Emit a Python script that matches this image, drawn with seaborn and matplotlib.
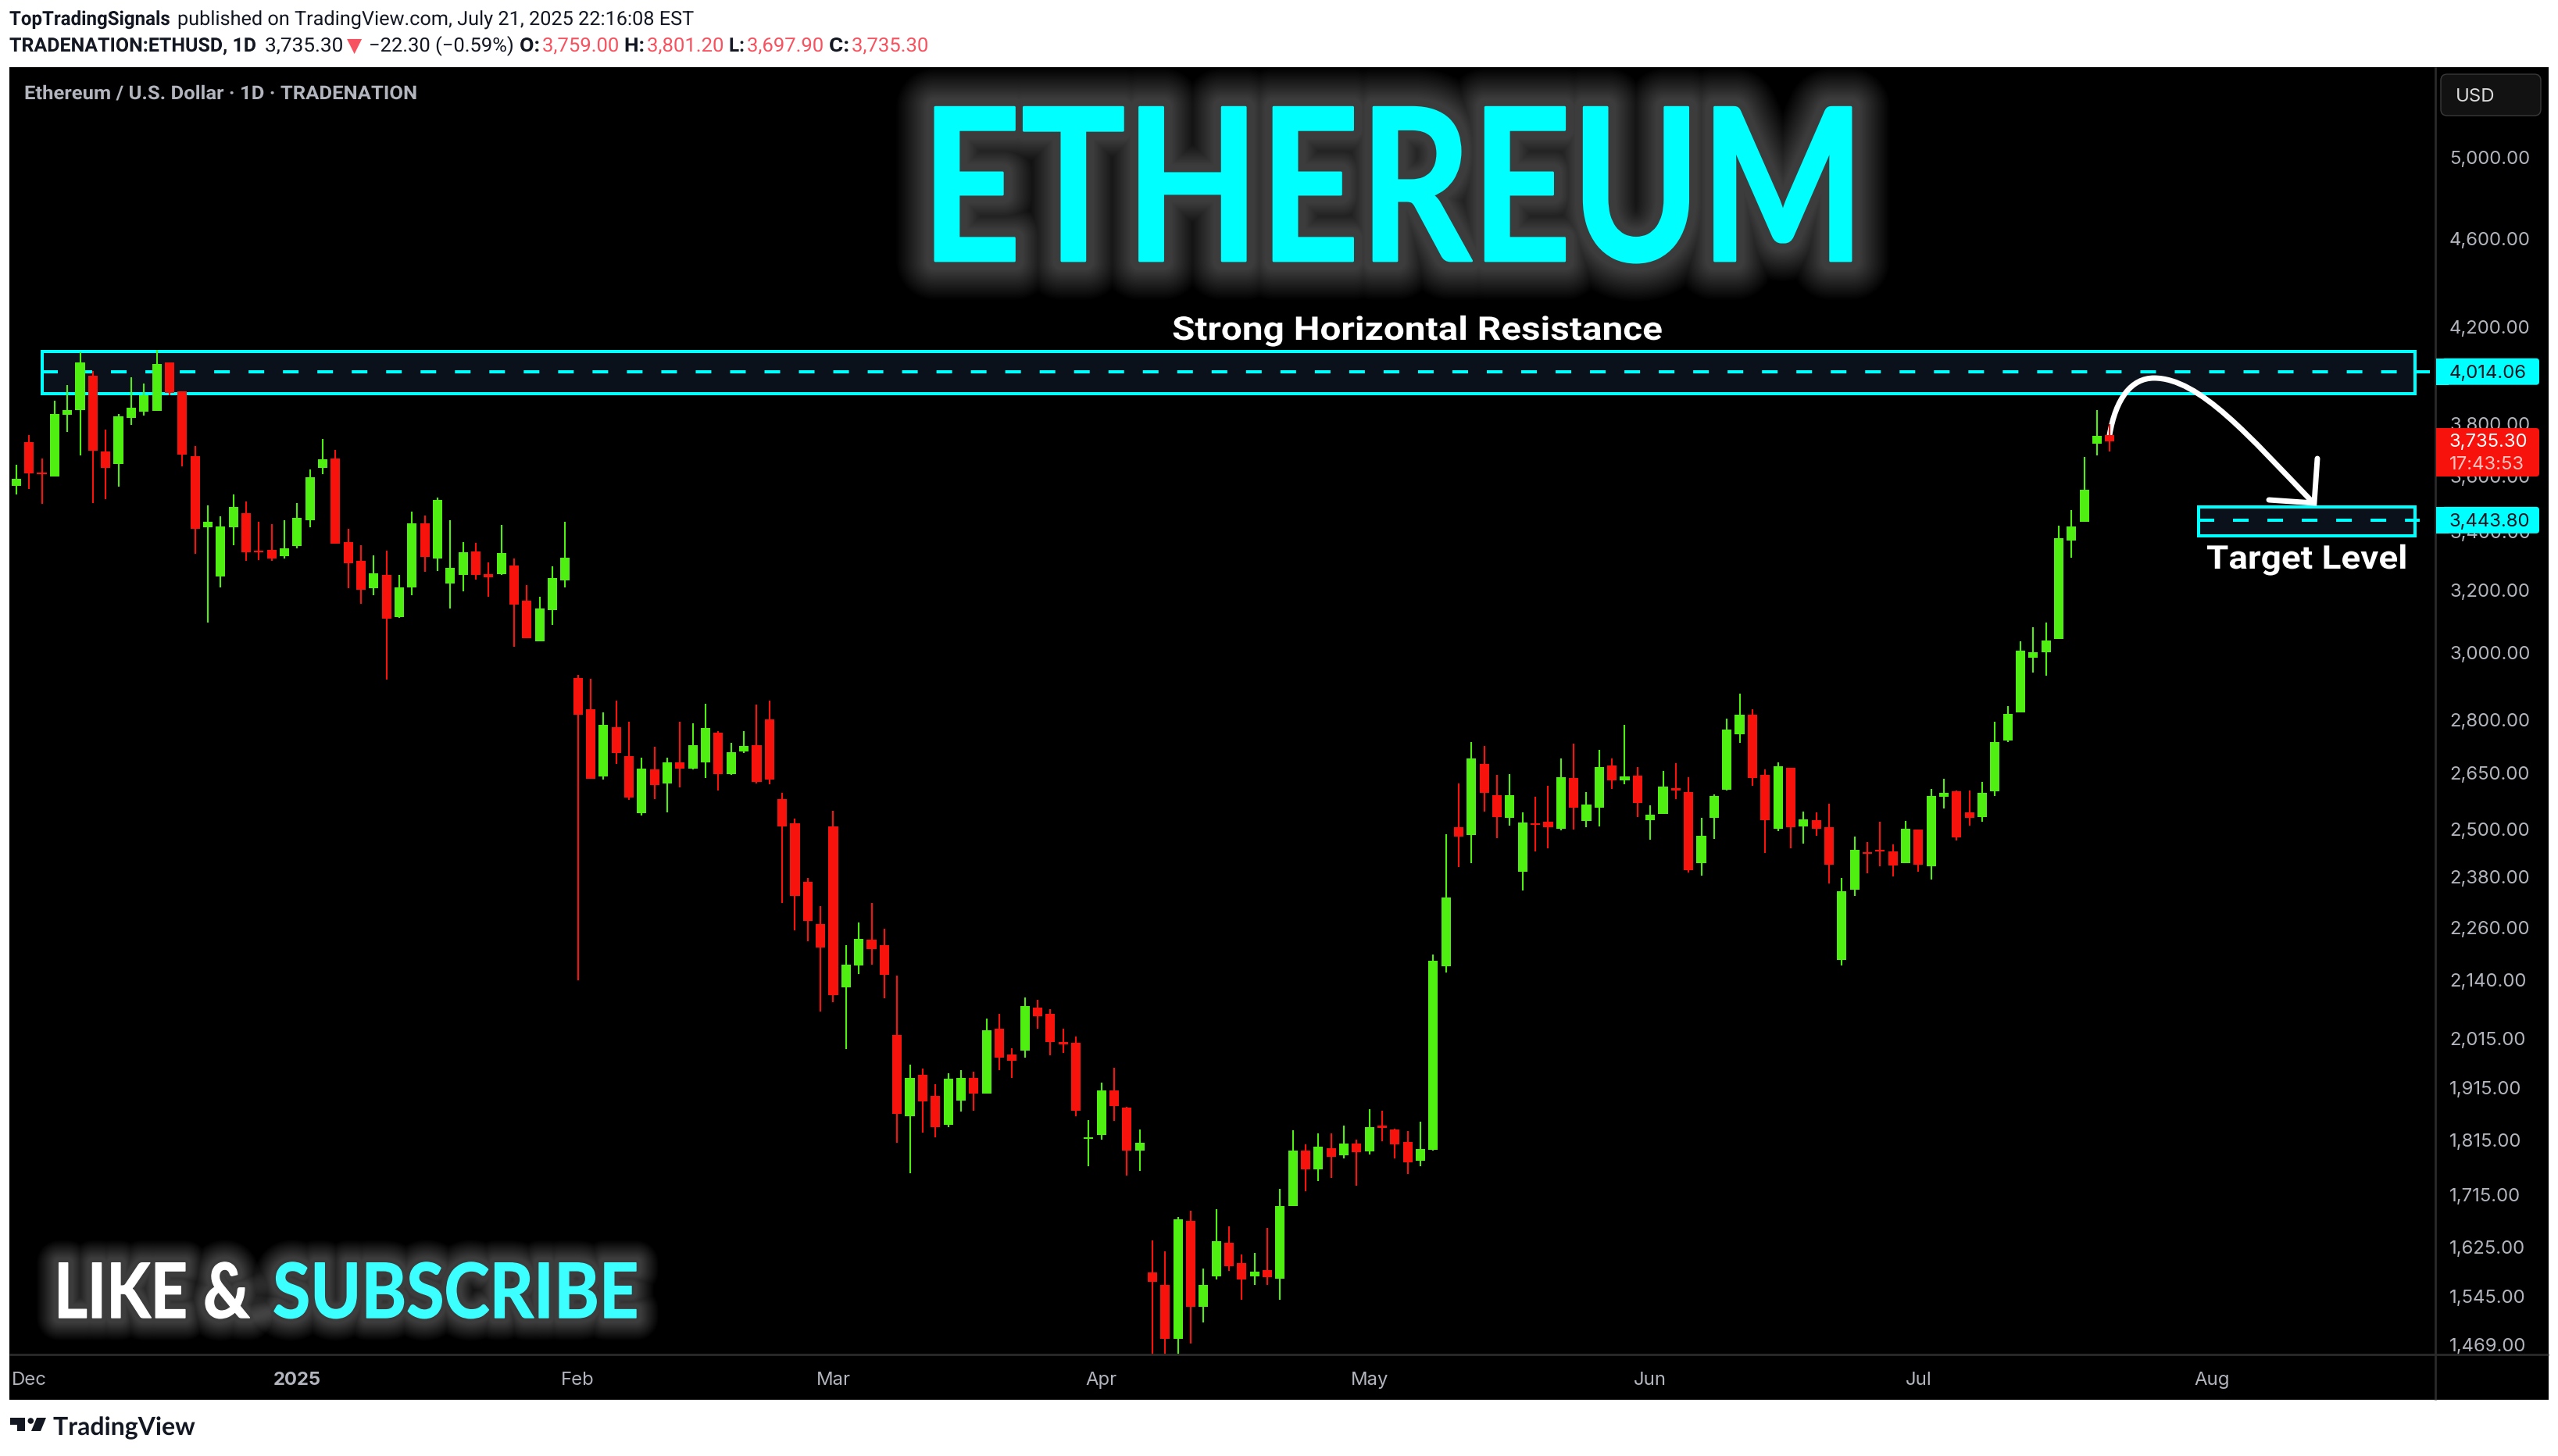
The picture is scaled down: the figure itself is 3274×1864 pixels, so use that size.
import matplotlib
matplotlib.use("Agg")
import matplotlib.pyplot as plt
import matplotlib.patheffects as pe
from matplotlib.patches import Circle, FancyBboxPatch, PathPatch, Polygon, Rectangle
from matplotlib.path import Path
from matplotlib.transforms import Affine2D, ScaledTranslation
import pandas as pd
import seaborn as sns

OPEN = [3569,3733,3618,3603,3839,3858,3998,3695,3650,3827,
        3852,3855,4053,3933,3679,3419,3250,3419,3469,3338,
        3340,3319,3354,3444,3635,3670,3367,3303,3209,3255,
        3117,3214,3433,3311,3225,3255,3335,3258,3258,3287,
        3168,3040,3138,3237,2926,2833,2643,2781,2699,2546,
        2663,2625,2683,2666,2683,2766,2650,2712,2730,2804,
        2583,2519,2372,2270,2510,2126,2175,2234,2221,2025,
        1862,1943,1902,1845,1892,1937,1906,2038,1984,1992,
        2083,2070,2010,2008,1819,1826,1912,1878,1797,1585,
        1564,1480,1671,1529,1578,1634,1600,1578,1588,1575,
        1697,1797,1762,1802,1789,1810,1796,1844,1836,1813,
        1779,1799,2174,2509,2489,2678,2593,2533,2397,2519,
        2523,2505,2640,2525,2560,2674,2632,2646,2527,2544,
        2612,2602,2418,2533,2608,2762,2818,2648,2505,2668,
        2511,2527,2509,2188,2353,2444,2451,2446,2418,2503,
        2410,2589,2604,2548,2535,2604,2744,2825,2989,3006,
        3047,3373,3439,3727,3759]
HIGH = [3647,3760,3670,3895,3958,4094,4017,3781,3842,3989,
        3964,4106,4053,3933,3718,3497,3458,3537,3511,3438,
        3430,3444,3505,3629,3745,3703,3414,3356,3321,3338,
        3255,3474,3460,3526,3444,3367,3364,3298,3428,3311,
        3221,3183,3284,3438,2935,2924,2825,2858,2798,2696,
        2725,2696,2797,2793,2850,2770,2737,2770,2847,2859,
        2600,2531,2381,2312,2552,2221,2274,2320,2259,2152,
        1964,1955,1924,1946,1953,1950,2060,2070,1997,2104,
        2099,2079,2037,2022,1855,1928,1957,1880,1837,1638,
        1620,1678,1689,1591,1692,1662,1614,1617,1659,1727,
        1835,1809,1829,1829,1844,1818,1875,1872,1838,1834,
        1851,2200,2491,2625,2740,2727,2648,2650,2548,2589,
        2619,2694,2735,2602,2716,2692,2789,2670,2566,2659,
        2681,2642,2533,2595,2807,2880,2834,2663,2683,2668,
        2550,2548,2570,2381,2485,2471,2523,2465,2525,2503,
        2610,2638,2606,2606,2629,2796,2843,3039,3084,3099,
        3424,3480,3676,3858,3801.2]
LOW = [3537,3557,3502,3603,3772,3683,3505,3520,3566,3799,
       3836,3855,3917,3641,3327,3099,3214,3356,3303,3306,
       3301,3311,3346,3419,3612,3362,3209,3160,3188,2922,
       3114,3186,3266,3268,3143,3201,3240,3183,3255,3023,
       3050,3040,3092,3214,2142,2638,2635,2677,2581,2539,
       2583,2547,2615,2663,2640,2606,2648,2708,2625,2622,
       2320,2255,2230,2074,2095,1995,2156,2177,2103,1812,
       1755,1831,1822,1841,1871,1873,1906,1953,1937,1978,
       2037,1983,1987,1862,1768,1817,1853,1752,1760,1420,
       1410,1440,1473,1505,1573,1587,1541,1564,1564,1541,
       1697,1724,1741,1747,1783,1733,1790,1815,1783,1754,
       1768,1797,2160,2408,2418,2550,2481,2513,2351,2446,
       2455,2501,2503,2509,2511,2610,2623,2535,2477,2544,
       2583,2395,2387,2479,2606,2737,2619,2442,2499,2455,
       2467,2487,2368,2176,2337,2393,2410,2385,2418,2397,
       2376,2558,2475,2513,2523,2591,2740,2825,2943,2933,
       3047,3313,3439,3682,3697.9]
CLOSE = [3595,3615,3612,3842,3858,4053,3698,3635,3833,3868,
         3917,4046,3927,3686,3414,3438,3422,3491,3332,3332,
         3311,3346,3452,3600,3667,3362,3295,3206,3260,3112,
         3214,3433,3316,3517,3279,3332,3255,3247,3329,3157,
         3050,3143,3245,3314,2817,2638,2788,2708,2587,2666,
         2621,2683,2666,2730,2778,2650,2711,2728,2629,2635,
         2510,2337,2278,2216,2109,2177,2235,2212,2154,1867,
         1937,1890,1841,1935,1937,1906,2035,1978,1971,2086,
         2064,2010,2006,1873,1822,1912,1881,1797,1811,1570,
         1480,1674,1530,1565,1637,1595,1573,1586,1577,1697,
         1797,1762,1805,1786,1810,1794,1841,1840,1809,1776,
         1800,2186,2334,2485,2692,2600,2535,2593,2521,2515,
         2509,2642,2560,2568,2670,2634,2644,2573,2542,2617,
         2606,2399,2487,2591,2775,2818,2640,2527,2672,2509,
         2529,2505,2414,2349,2451,2440,2447,2412,2505,2414,
         2591,2600,2483,2533,2600,2740,2820,3010,3006,3042,
         3381,3421,3554,3757,3735.3]

PRICE_TICKS = [5000, 4600, 4200, 3800, 3600, 3400, 3200, 3000, 2800, 2650, 2500,
               2380, 2260, 2140, 2015, 1915, 1815, 1715, 1625, 1545, 1469]
MONTH_BARS = [1, 22, 44, 64, 85, 106, 128, 149, 172]
MONTH_LABELS = ["Dec", "2025", "Feb", "Mar", "Apr", "May", "Jun", "Jul", "Aug"]

RESISTANCE = 4014.06
RESISTANCE_ZONE = [3925, 4098]
TARGET = 3443.80
TARGET_ZONE = [3387, 3491]
LAST_PRICE = 3735.30

W, H = 3274, 1864
UP = "#4ff011"
DOWN = "#f8120c"
CYAN = "#00ffff"
GREY = "#b2b5be"
INK = "#131722"
RED_TXT = "#f7525f"
FONT = ["Roboto", "DejaVu Sans"]
AXIS_SIZE = 17.2

sns.set_theme(style="dark", rc={"axes.facecolor": "black", "figure.facecolor": "white"})
plt.rcParams["font.family"] = ["Inter", "DejaVu Sans"]

df = pd.DataFrame({"open": OPEN, "high": HIGH, "low": LOW, "close": CLOSE})
df["bar"] = range(len(df))
df["bottom"] = df[["open", "close"]].min(axis=1)
df["body"] = (df["close"] - df["open"]).abs()
df["up"] = df["close"] >= df["open"]
wicks = df.melt(id_vars=["bar", "up"], value_vars=["high", "low"], value_name="price")

fig = plt.figure(figsize=(W / 100, H / 100), dpi=100)
fig.add_artist(Rectangle((12 / W, (H - 1792) / H), 3250 / W, 1706 / H, transform=fig.transFigure,
                         fc="black", ec="none", zorder=-1))
ax = fig.add_axes([12 / W, (H - 1734) / H, 3105 / W, 1648 / H])
ov = fig.add_axes([0, 0, 1, 1])
ov.set_xlim(0, W)
ov.set_ylim(H, 0)
ov.axis("off")

# candles: wicks then bodies
for is_up, colour in [(True, UP), (False, DOWN)]:
    sub = df[df["up"] == is_up]
    sns.lineplot(data=wicks[wicks["up"] == is_up], x="bar", y="price", units="bar", estimator=None,
                 color=colour, linewidth=1.5, solid_capstyle="butt", zorder=2.5, ax=ax)
    sns.barplot(data=sub, x="bar", y="body", bottom=sub["bottom"].values, native_scale=True, width=0.74,
                color=colour, saturation=1, linewidth=0, errorbar=None, zorder=3, ax=ax)

ax.set_yscale("log")
ax.set_xlim(-0.54, 189.5)
ax.set_ylim(1456.2, 5495)
ax.set_xlabel("")
ax.set_ylabel("")
ax.set_yticks(PRICE_TICKS, labels=[f"{p:,.2f}" for p in PRICE_TICKS])
ax.minorticks_off()
ax.yaxis.tick_right()
ax.tick_params(axis="y", length=0, pad=13, labelsize=AXIS_SIZE, labelcolor=GREY)
nudge = ScaledTranslation(0, 1.5 / 100, fig.dpi_scale_trans)
for tick_label in ax.get_yticklabels():
    tick_label.set_verticalalignment("center_baseline")
    tick_label.set_transform(tick_label.get_transform() + nudge)
ax.set_xticks(MONTH_BARS, labels=MONTH_LABELS)
ax.tick_params(axis="x", length=0, pad=15.5, labelsize=AXIS_SIZE, labelcolor=GREY)
ax.get_xticklabels()[1].set_fontweight("bold")
ax.grid(False)
for spine in ax.spines.values():
    spine.set_visible(False)


def zone(x0, x1, x_end, band, level):
    ax.add_patch(Rectangle((x0, band[0]), x1 - x0, band[1] - band[0], fc="#0a111a", ec=CYAN, lw=2.9, zorder=1))
    ax.plot([x0, x_end], [level, level], color=CYAN, lw=2.9, dashes=(4.97, 5.96), dash_capstyle="butt", zorder=1.2)


zone(2.03, 187.9, 189.06, RESISTANCE_ZONE, RESISTANCE)
zone(170.94, 187.9, 188.3, TARGET_ZONE, TARGET)

# hand drawn arrow
curve = Path([(2700, 557), (2708, 510), (2728, 484), (2757, 484), (2815, 484), (2880, 560), (2960, 643)],
             [Path.MOVETO] + [Path.CURVE4] * 6)
head = Path([(2966, 587), (2962, 644), (2904, 640)], [Path.MOVETO, Path.LINETO, Path.LINETO])
for shape in (curve, head):
    ax.add_patch(PathPatch(shape, transform=ov.transData, fc="none", ec="white", lw=5, capstyle="round",
                           joinstyle="miter", zorder=1.8, clip_on=False))

# panel separators
ov.plot([12, 3262], [1734, 1734], color="#2a2a2a", lw=2, solid_capstyle="butt")
ov.plot([3117, 3117], [86, 1792], color="#2a2a2a", lw=2, solid_capstyle="butt")

renderer = fig.canvas.get_renderer()


class Fit(pe.AbstractPathEffect):
    # squeezes the text sideways around x0, optional stroke for glow and extra weight
    def __init__(self, sx, x0, width=0, colour="white", alpha=1):
        super().__init__()
        self.sx, self.x0, self.width, self.colour, self.alpha = sx, x0, width, colour, alpha

    def draw_path(self, renderer, gc, tpath, affine, rgbFace=None):
        fit = affine + Affine2D().translate(-self.x0, 0).scale(self.sx, 1).translate(self.x0, 0)
        if not self.width:
            renderer.draw_path(gc, tpath, fit, rgbFace)
            return
        gc0 = renderer.new_gc()
        gc0.copy_properties(gc)
        gc0.set_foreground(self.colour)
        gc0.set_alpha(self.alpha)
        gc0.set_linewidth(self.width)
        renderer.draw_path(gc0, tpath, fit, None)
        gc0.restore()


def fit_text(label, x0, x1, baseline, size, colour, weight="bold", family="Lato", glow=0, extra=0):
    t = ov.text(x0, baseline, label, fontsize=size, color=colour, fontweight=weight, family=family,
                ha="left", va="baseline")
    box = t.get_window_extent(renderer)
    sx = (x1 - x0) / box.width
    effects = []
    if glow:
        effects = [Fit(sx, x0, width=glow * (1 - 0.8 * i / 30), alpha=0.012) for i in range(30)]
    if extra:
        effects.append(Fit(sx, x0, width=extra, colour=colour))
    t.set_path_effects(effects + [Fit(sx, x0)])
    return t


fit_text("ETHEREUM", 1179, 2387, 334, 196, CYAN, glow=72, extra=2)
fit_text("LIKE &", 69, 320, 1687, 70, "white", glow=42, extra=1)
fit_text("SUBSCRIBE", 349, 818, 1687, 70, "#3cffff", glow=42, extra=1)
fit_text("Strong Horizontal Resistance", 1500, 2127, 435, 30, "white", weight="bold", family="Roboto")
fit_text("Target Level", 2824, 3081, 728, 30, "white", weight="bold", family="Roboto")
fit_text("Ethereum / U.S. Dollar · 1D · TRADENATION", 31, 533, 127, 17.5, GREY, weight="bold", family="Roboto")
fit_text("TradingView", 68, 250, 1837, 23, INK, weight="bold", family="Lato")

# publisher header, each piece fitted to its span
for label, x0, x1, base, weight, colour in [
    ("TopTradingSignals", 12, 218, 32, "bold", INK),
    ("published on TradingView.com, July 21, 2025 22:16:08 EST", 227, 887, 32, "normal", INK),
    ("TRADENATION:ETHUSD, 1D", 12, 329, 66, "bold", INK),
    ("3,735.30", 339, 439, 66, "normal", INK),
    ("−22.30 (−0.59%)", 472, 657, 66, "normal", INK),
    ("O:", 665, 691, 66, "bold", INK),
    ("3,759.00", 694, 792, 66, "normal", RED_TXT),
    ("H:", 799, 825, 66, "bold", INK),
    ("3,801.20", 828, 926, 66, "normal", RED_TXT),
    ("L:", 933, 953, 66, "bold", INK),
    ("3,697.90", 956, 1054, 66, "normal", RED_TXT),
    ("C:", 1061, 1087, 66, "bold", INK),
    ("3,735.30", 1090, 1188, 66, "normal", RED_TXT),
]:
    fit_text(label, x0, x1, base, 18, colour, weight=weight, family="Roboto")
ov.text(444, 66, "▼", fontsize=18, color=RED_TXT, family=FONT, ha="left", va="baseline")


def price_y(price):
    return H - ax.transData.transform((0, price))[1]


def axis_box(top, bottom, colour):
    ov.add_patch(FancyBboxPatch((3125, top), 125, bottom - top, boxstyle="round,pad=0,rounding_size=4",
                                fc=colour, ec="none", zorder=4))
    ov.add_patch(Rectangle((3118, top), 16, bottom - top, fc=colour, ec="none", zorder=4))


for level in (RESISTANCE, TARGET):
    y = price_y(level)
    axis_box(y - 17, y + 17, CYAN)
    ov.text(3135, y, f"{level:,.2f}", fontsize=AXIS_SIZE, color=INK, va="center_baseline", zorder=5)
y = price_y(LAST_PRICE)
axis_box(y - 17, y + 45, DOWN)
ov.text(3135, y - 2, f"{LAST_PRICE:,.2f}", fontsize=AXIS_SIZE, color="white", va="center_baseline", zorder=5)
ov.text(3135, y + 27, "17:43:53", fontsize=AXIS_SIZE, color="#ffc4c0", va="center_baseline", zorder=5)

# currency button
ov.add_patch(FancyBboxPatch((3124, 95), 128, 53, boxstyle="round,pad=0,rounding_size=8",
                            fc="#121212", ec="#3a3a3a", lw=1))
ov.text(3143, 122, "USD", fontsize=AXIS_SIZE, color="#dbdbdb", va="center_baseline")

# TradingView mark
ov.add_patch(Polygon([(13, 1815), (32, 1815), (32, 1832), (21.5, 1832), (21.5, 1823.5), (13, 1823.5)],
                     fc=INK, ec="none"))
ov.add_patch(Circle((39.3, 1819), 3.8, fc=INK, ec="none"))
ov.add_patch(Polygon([(47, 1815), (59, 1815), (52, 1832), (40, 1832)], fc=INK, ec="none"))

fig.savefig("out.png", dpi=100)
plt.close(fig)
